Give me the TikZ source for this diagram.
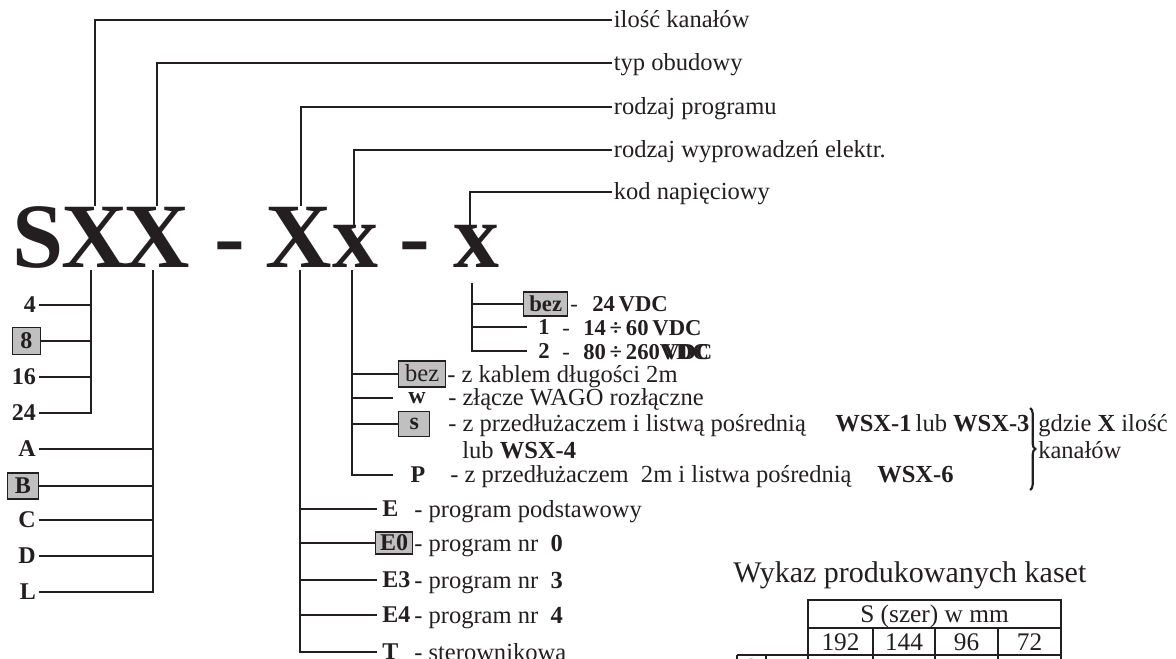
\documentclass[tikz,border=0pt]{standalone}
\usepackage{fontspec}
\setmainfont{Liberation Serif}
\usetikzlibrary{decorations.pathreplacing}
\definecolor{boxgray}{RGB}{192,192,192}
\definecolor{ink}{RGB}{35,31,32}
\begin{document}
\begin{tikzpicture}[x=0.75pt,y=-0.75pt,
  every node/.style={text=ink},
  conn/.style={draw=ink,line width=1.1pt},
  tab/.style={draw=ink,line width=1.3pt},
  big/.style={font=\fontsize{69}{80}\selectfont\bfseries, inner sep=0, anchor=base},
  toplab/.style={font=\fontsize{18.4}{22}\selectfont, anchor=west, inner xsep=1.2pt, inner ysep=0, text height=10.7pt, text depth=0pt},
  code/.style={font=\fontsize{18}{22}\selectfont\bfseries, inner xsep=2.2pt, inner ysep=0, text height=11.9pt, text depth=0pt},
  gbox/.style={draw=ink, line width=1.1pt, fill=boxgray, inner sep=0, font=\fontsize{18}{22}\selectfont\bfseries, text height=11.9pt, text depth=0pt},
  desc/.style={font=\fontsize{18.4}{22}\selectfont, anchor=base west, inner sep=0},
  volt/.style={font=\fontsize{17}{20}\selectfont\bfseries, inner sep=0},
  voltc/.style={volt, text height=11.2pt, text depth=0pt},
  tabtxt/.style={font=\fontsize{19}{22}\selectfont, anchor=base, inner sep=0},
]
\useasboundingbox (0,0) rectangle (1176,659);

% big code letters
\node[big] (S)  at (38,267)  {S};
\node[big] (X1) at (95,267)  {X};
\node[big] (X2) at (157,267) {X};
\node[big] (d1) at (230,267) {-};
\node[big] (X3) at (299,267) {X};
\node[big] (x4) at (355,267) {x};
\node[big] (d2) at (415,267) {-};
\node[big] (x5) at (476,267) {x};

% top labels
\node[toplab] (t1) at (612,20)  {ilość kanałów};
\node[toplab] (t2) at (612,63)  {typ obudowy};
\node[toplab] (t3) at (612,107) {rodzaj programu};
\node[toplab] (t4) at (612,150) {rodzaj wyprowadzeń elektr.};
\node[toplab] (t5) at (612,192) {kod napięciowy};

\draw[conn] (X1.north) |- (t1.west);
\draw[conn] (X2.north) |- (t2.west);
\draw[conn] ([xshift=1.5pt]X3.north) |- (t3.west);
\draw[conn] ([xshift=-0.75pt]x4.north) |- (t4.west);
\draw[conn] ([xshift=-4.5pt]x5.north) |- (t5.west);

% bus start points
\coordinate (b1) at ([shift={(-3pt,-2.25pt)}]X1.south);
\coordinate (b2) at ([shift={(-3pt,-2.25pt)}]X2.south);
\coordinate (b3) at ([shift={(0.75pt,-2.25pt)}]X3.south);
\coordinate (b4) at ([shift={(-2.25pt,-2.25pt)}]x4.south);
\coordinate (b5) at ([shift={(-3pt,-12pt)}]x5.south);

% left labels: number of channels
\node[code, anchor=east] (l4) at (39,305) {4};
\node[gbox, anchor=east, minimum width=21pt, minimum height=20.25pt] (l8) at (41,341) {8};
\node[code, anchor=east] (l16) at (39,377) {16};
\node[code, anchor=east] (l24) at (39,413) {24};
\draw[conn] (b1) |- (l24.east);
\foreach \n in {l4,l8,l16} \draw[conn] (\n.east) -- (\n.east -| b1);

% housing types
\node[code, anchor=east] (lA) at (39,449) {A};
\node[gbox, anchor=east, minimum width=23.25pt, minimum height=19.5pt] (lB) at (39,486) {B};
\node[code, anchor=east] (lC) at (39,520) {C};
\node[code, anchor=east] (lD) at (39,556) {D};
\node[code, anchor=east] (lL) at (39,592) {L};
\draw[conn] (b2) |- (lL.east);
\foreach \n in {lA,lB,lC,lD} \draw[conn] (\n.east) -- (\n.east -| b2);

% program types
\node[code, anchor=west, inner xsep=3.75pt] (pE) at (377,509) {E};
\node[gbox, anchor=west, minimum width=27.75pt, minimum height=16.5pt] (pE0) at (375,543) {E0};
\node[code, anchor=west, inner xsep=3.75pt] (pE3) at (377,580) {E3};
\node[code, anchor=west, inner xsep=3.75pt] (pE4) at (377,615) {E4};
\node[code, anchor=west, inner xsep=3.75pt] (pT) at (377,652) {T};
\draw[conn] (b3) |- (pT.west);
\foreach \n in {pE,pE0,pE3,pE4} \draw[conn] (\n.west -| b3) -- (\n.west);
\node[desc] (dE)  at (414,517) {- program podstawowy};
\node[desc] (dE0) at (414,551) {- program nr\ \ \textbf{0}};
\node[desc] (dE3) at (414,588) {- program nr\ \ \textbf{3}};
\node[desc] (dE4) at (414,623) {- program nr\ \ \textbf{4}};
\node[desc] (dT)  at (414,660) {- sterownikowa};

% wire outputs
\node[gbox, font=\fontsize{18.4}{22}\selectfont, anchor=west, minimum width=35.25pt, minimum height=19.5pt] (wbez) at (398,374) {bez};
\node[code, minimum width=36pt, text height=8.3pt] (ww) at (417,398) {w};
\node[gbox, font=\fontsize{18}{22}\selectfont\bfseries, text height=8.3pt, anchor=west, minimum width=23.25pt, minimum height=18.75pt] (ws) at (398,424) {s};
\node[code, minimum width=37.5pt] (wp) at (418,475) {P};
\draw[conn] (b4) |- (wp.west);
\foreach \n in {wbez,ww,ws} \draw[conn] (\n.west -| b4) -- (\n.west);
\node[desc] (dbez) at (447,382) {- z kablem długości 2m};
\node[desc] (dw)   at (448,405) {- złącze WAGO rozłączne};
\node[desc] (ds)   at (448,431) {- z przedłużaczem i listwą pośrednią};
\node[desc] (ds1)  at (835,431) {\textbf{WSX-1}\,lub \textbf{WSX-3}};
\node[desc] (ds2)  at (462,458) {lub \textbf{WSX-4}};
\node[desc] (dp)   at (450,482) {- z przedłużaczem\ \ 2m i listwa pośrednią};
\node[desc] (dp1)  at (877,482) {\textbf{WSX-6}};

% brace note
\coordinate (brT) at (1030,408);
\coordinate (brB) at (1030,490);
\draw[draw=ink, line width=1.6pt, decorate, decoration={brace, amplitude=4pt}] (brT) -- (brB);
\node[desc] (g1) at (1038,431) {gdzie \textbf{X} ilość};
\node[desc] (g2) at (1038,458) {kanałów};

% voltage codes
\node[gbox, font=\fontsize{17}{20}\selectfont\bfseries, text height=11.2pt, anchor=west, minimum width=33pt, minimum height=18pt] (vbez) at (523,304) {bez};
\node[voltc, minimum width=25.5pt] (v1) at (544,327) {1};
\node[voltc, minimum width=25.5pt] (v2) at (544,351) {2};
\draw[conn] (b5) |- (v2.west);
\foreach \n in {vbez,v1} \draw[conn] (\n.west -| b5) -- (\n.west);
\node[volt, anchor=base west] (h0) at (570,311) {\mdseries -};
\node[volt, anchor=base west] (n0) at (592,311) {24\,VDC};
\node[volt, anchor=base west] (h1) at (562,335) {\mdseries -};
\node[volt, anchor=base west] (n1) at (583,335) {14\,÷\,60\,VDC};
\node[volt, anchor=base west] (h2) at (562,359) {\mdseries -};
\node[volt, anchor=base west] (n2) at (583,359) {80\,÷\,260\rlap{VDC}\hspace{2.5pt}VDC};

% table
\node[font=\fontsize{22.5}{27}\selectfont, anchor=base west, inner sep=0] (title) at (733,582) {Wykaz produkowanych kaset};
\begin{scope}
\clip (0,0) rectangle (1176,659);
\draw[tab] (808,600) rectangle (1061,628);
\draw[tab] (808,628) -- (808,662);
\draw[tab] (1061,628) -- (1061,662);
\draw[tab] (737,655) -- (1061,655);
\foreach \cx in {873,935,998} \draw[tab] (\cx,628) -- (\cx,662);
\draw[draw=ink,line width=2pt] (737,655) -- (737,662);
\draw[tab] (766,655) -- (766,662);
\draw[draw=ink,line width=2pt] (751,669) circle[radius=9];
\end{scope}
\node[tabtxt] (hS) at (934.5,622) {S (szer) w mm};
\node[tabtxt] (c1) at (840.5,650) {192};
\node[tabtxt] (c2) at (904,650) {144};
\node[tabtxt] (c3) at (966.5,650) {96};
\node[tabtxt] (c4) at (1029.5,650) {72};
\end{tikzpicture}
\end{document}
